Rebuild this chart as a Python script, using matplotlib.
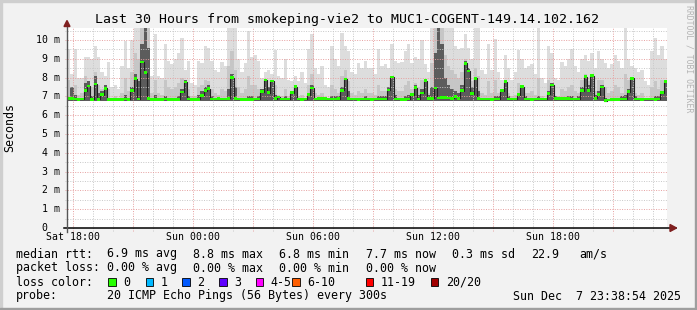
import matplotlib
matplotlib.use('Agg')
import matplotlib.pyplot as plt
import numpy as np
from matplotlib.patches import Rectangle, Polygon
from matplotlib.transforms import blended_transform_factory

plt.rcParams['font.family'] = ['DejaVu Sans Mono']

# ---- data: 10 minute steps starting Sat 17:42 (hours relative to Sat 18:00) ----
t_start = -0.3
step_h = 1 / 6.0

median_ms = [
    6.90, 6.88, 6.86, 6.85, 6.86, 7.30, 7.55, 6.85, 7.66, 6.84,
    7.10, 7.43, 6.85, 6.85, 6.84, 6.84, 6.85, 6.86, 6.85, 7.30,
    7.94, 6.86, 8.83, 8.26, 6.88, 6.85, 6.84, 6.84, 6.85, 6.86,
    6.85, 6.84, 6.85, 6.85, 7.23, 7.77, 6.86, 6.85, 6.84, 6.85,
    7.05, 7.30, 7.42, 6.87, 6.86, 6.88, 6.87, 6.86, 6.90, 8.00,
    6.88, 6.86, 6.85, 6.84, 6.84, 6.85, 6.86, 6.87, 7.25, 7.87,
    7.20, 7.82, 6.88, 6.97, 6.87, 6.86, 6.86, 7.20, 7.52, 6.87,
    6.85, 6.86, 7.10, 7.45, 6.87, 6.88, 6.89, 6.88, 6.87, 6.86,
    6.87, 6.88, 7.32, 7.93, 6.88, 6.87, 6.86, 6.85, 6.86, 6.87,
    6.86, 6.85, 6.86, 6.86, 6.87, 6.86, 7.34, 8.03, 6.87, 6.86,
    6.85, 6.85, 6.86, 7.09, 7.46, 6.87, 7.18, 7.84, 6.88, 6.90,
    7.45, 6.92, 6.94, 6.93, 6.92, 6.90, 6.98, 6.90, 7.30, 8.76,
    8.35, 7.15, 7.96, 6.90, 6.87, 6.86, 6.86, 6.85, 6.86, 6.87,
    7.30, 7.78, 6.87, 6.86, 6.86, 7.10, 7.52, 6.87, 6.86, 6.85,
    6.86, 6.87, 6.87, 6.86, 7.14, 7.60, 6.88, 6.89, 6.90, 6.90,
    6.88, 6.87, 6.86, 6.87, 7.30, 8.05, 7.30, 8.10, 6.90, 7.10,
    7.50, 6.78, 6.80, 6.82, 6.84, 6.85, 6.86, 6.86, 7.26, 7.96,
    6.87, 6.86, 6.85, 6.86, 6.87, 6.86, 6.85, 6.86, 7.20, 7.78,
]

smoke_hi = [
    9.5, 8.2, 9.5, 8.0, 8.0, 9.1, 9.1, 9.0, 9.7, 9.1,
    8.3, 8.1, 8.85, 7.5, 7.6, 7.4, 8.6, 9.95, 8.5, 10.0,
    10.7, 10.7, 10.7, 10.7, 10.7, 8.1, 10.3, 8.1, 8.0, 9.8,
    8.9, 8.7, 9.0, 9.3, 10.1, 8.4, 8.9, 7.7, 7.6, 8.9,
    8.8, 9.7, 9.6, 8.9, 8.4, 8.3, 8.85, 8.6, 10.7, 10.7,
    10.7, 9.0, 8.3, 8.8, 10.5, 9.1, 9.2, 8.9, 8.0, 8.3,
    8.4, 8.2, 9.45, 8.1, 8.0, 9.0, 7.9, 7.8, 8.1, 7.8,
    8.3, 7.7, 9.5, 10.3, 8.5, 8.2, 8.6, 7.6, 7.5, 9.7,
    9.0, 8.6, 10.4, 9.7, 9.4, 8.3, 8.2, 8.8, 8.5, 8.9,
    8.5, 8.5, 8.2, 9.5, 8.6, 8.7, 8.5, 9.8, 8.9, 8.8,
    8.85, 9.4, 9.8, 8.8, 9.1, 9.0, 10.0, 8.7, 8.3, 10.7,
    10.7, 10.7, 10.7, 10.7, 10.7, 10.7, 9.7, 9.5, 9.6, 10.3,
    9.6, 9.0, 10.7, 10.7, 8.4, 8.2, 9.8, 8.4, 10.05, 8.3,
    7.9, 9.2, 8.5, 7.9, 8.3, 9.47, 9.0, 8.5, 8.6, 8.7,
    8.2, 10.7, 8.0, 7.7, 9.7, 9.3, 8.0, 7.9, 8.85, 8.6,
    9.0, 9.5, 8.6, 8.3, 9.0, 9.2, 8.9, 9.3, 8.5, 9.4,
    9.0, 8.8, 8.5, 8.7, 9.2, 8.9, 8.5, 10.7, 9.0, 8.6,
    8.5, 8.3, 8.4, 7.8, 7.6, 9.4, 10.1, 9.2, 9.7, 9.0,
]

smoke_mid = [
    7.9, 7.3, 7.6, 7.1, 7.2, 8.1, 7.7, 7.5, 8.3, 7.6,
    7.4, 7.5, 7.4, 6.9, 7.0, 6.9, 7.2, 8.0, 7.3, 8.3,
    9.3, 9.0, 10.7, 10.7, 10.7, 7.2, 7.9, 7.2, 7.1, 7.9,
    7.5, 7.4, 7.5, 7.7, 8.0, 7.6, 7.4, 7.0, 7.0, 7.5,
    7.6, 7.9, 7.8, 7.4, 7.2, 7.1, 7.4, 7.3, 8.6, 9.4,
    8.4, 7.5, 7.2, 7.4, 8.1, 7.6, 7.6, 7.4, 7.4, 7.7,
    7.5, 7.6, 7.6, 7.1, 7.0, 7.4, 7.0, 7.1, 7.3, 7.0,
    7.1, 6.9, 7.6, 8.2, 7.2, 7.1, 7.2, 6.9, 6.9, 7.6,
    7.4, 7.2, 8.1, 8.4, 7.8, 7.2, 7.1, 7.3, 7.2, 7.4,
    7.2, 7.2, 7.1, 7.6, 7.3, 7.3, 7.5, 8.0, 7.4, 7.3,
    7.3, 7.6, 7.8, 7.4, 7.7, 7.5, 7.9, 7.7, 7.2, 8.8,
    10.7, 10.7, 10.7, 9.2, 8.6, 8.4, 8.2, 8.0, 8.3, 9.0,
    8.5, 7.8, 8.5, 8.1, 7.2, 7.1, 7.8, 7.2, 7.9, 7.2,
    7.1, 7.7, 7.2, 7.0, 7.1, 7.7, 7.5, 7.2, 7.2, 7.3,
    7.1, 8.0, 7.0, 6.9, 7.9, 7.7, 7.0, 7.0, 7.4, 7.3,
    7.5, 7.6, 7.3, 7.2, 7.9, 8.2, 7.8, 8.2, 7.3, 7.9,
    7.9, 7.5, 7.2, 7.3, 7.6, 7.5, 7.2, 8.2, 7.9, 7.8,
    7.2, 7.1, 7.2, 6.9, 6.9, 7.5, 7.8, 7.4, 7.9, 7.7,
]

smoke_dark = [
    6.9, 7.5, 7.1, 6.9, 6.9, 7.7, 7.8, 7.0, 8.1, 7.2,
    7.3, 7.6, 6.9, 6.88, 6.88, 6.88, 6.9, 7.1, 6.9, 7.5,
    8.2, 7.8, 9.8, 10.7, 9.6, 6.9, 7.1, 6.9, 6.9, 7.0,
    6.9, 6.88, 6.9, 7.0, 7.4, 7.9, 7.0, 6.88, 6.88, 7.1,
    7.3, 7.5, 7.6, 7.0, 6.9, 6.9, 6.9, 6.9, 7.4, 8.2,
    7.5, 6.9, 6.88, 6.88, 7.0, 7.0, 6.9, 7.0, 7.4, 7.9,
    7.5, 7.9, 7.1, 7.0, 6.9, 7.0, 6.9, 7.3, 7.6, 6.9,
    6.88, 6.9, 7.2, 7.6, 6.9, 6.9, 6.9, 6.88, 6.88, 7.0,
    7.0, 7.0, 7.5, 8.0, 7.3, 6.9, 6.9, 6.88, 6.9, 7.0,
    6.9, 6.88, 6.9, 7.0, 7.0, 7.0, 7.5, 8.1, 7.1, 6.9,
    6.88, 7.0, 7.1, 7.2, 7.6, 7.1, 7.4, 7.9, 7.1, 7.5,
    9.3, 10.7, 9.8, 8.0, 7.6, 7.4, 7.3, 7.2, 7.6, 8.9,
    8.5, 7.5, 8.0, 7.3, 6.9, 6.9, 6.9, 6.88, 7.0, 7.0,
    7.4, 7.9, 7.0, 6.9, 6.9, 7.2, 7.6, 7.0, 6.9, 6.88,
    6.9, 7.0, 6.9, 6.88, 7.3, 7.7, 7.0, 6.9, 6.9, 6.9,
    7.0, 7.0, 6.9, 7.0, 7.5, 8.1, 7.6, 8.2, 7.1, 7.3,
    7.6, 6.9, 6.88, 6.88, 6.9, 6.9, 7.0, 7.1, 7.4, 8.0,
    7.0, 6.9, 6.88, 6.9, 6.9, 6.9, 7.0, 7.0, 7.3, 7.8,
]
smoke_lo = 6.75

x_ticks = [0, 6, 12, 18, 24]
x_labels = ['Sat 18:00', 'Sun 00:00', 'Sun 06:00', 'Sun 12:00', 'Sun 18:00']
y_ticks = list(range(0, 11))

stats_rtt = ['6.9 ms avg', '8.8 ms max', '6.8 ms min', '7.7 ms now', '0.3 ms sd', '22.9', 'am/s']
stats_loss = ['0.00 % avg', '0.00 % max', '0.00 % min', '0.00 % now']
loss_labels = ['0', '1', '2', '3', '4-5', '6-10', '11-19', '20/20']
loss_colors = ['#26ff00', '#00b8ff', '#0059ff', '#5e00ff', '#ff00ff', '#ff5e00', '#ff0000', '#a10000']

title = 'Last 30 Hours from smokeping-vie2 to MUC1-COGENT-149.14.102.162'
probe = '20 ICMP Echo Pings (56 Bytes) every 300s'
stamp = 'Sun Dec  7 23:38:54 2025'

# ---- figure ----
W, H = 697, 310


def fx(x):
    return x / W


def fy(y):
    return 1 - y / H


fig = plt.figure(figsize=(W / 100, H / 100), dpi=100)
fig.patch.set_facecolor('#f2f2f2')
ax = fig.add_axes([fx(67), fy(228), 600 / W, 200 / H])
ax.set_facecolor('white')
ax.set_xlim(-0.3, 29.7)
ax.set_ylim(0, 10.64)
ax.set_xticks([])
ax.set_yticks([])
for s in ax.spines.values():
    s.set_visible(False)

n = len(median_ms)
t = t_start + np.arange(n + 1) * step_h


def ext(a):
    return np.append(a, a[-1])


med = np.array(median_ms)
ax.fill_between(t, smoke_lo, ext(smoke_hi), step='post', color='#dddddd', lw=0, zorder=1)
ax.fill_between(t, smoke_lo, ext(smoke_mid), step='post', color='#c6c6c6', lw=0, zorder=1.1)
ax.fill_between(t, smoke_lo, ext(smoke_dark), step='post', color='#5c5c5c', lw=0, zorder=1.2)

# grid
dots = (0, (1, 1.5))
for h in range(0, 30):
    c = '#e6a0a0' if h % 3 == 0 else '#c8c8c8'
    ax.plot([h, h], [-0.16, 10.64], color=c, lw=0.7, ls=dots, clip_on=False, zorder=3)
for v in np.arange(0.5, 10.6, 0.5):
    c = '#e6a0a0' if v % 1 == 0 else '#c8c8c8'
    ax.plot([-0.42, 29.7], [v, v], color=c, lw=0.7, ls=dots, clip_on=False, zorder=3)

# median: thin dark line plus loss coloured band
ax.step(t, ext(med), where='post', color='#202020', lw=0.8, zorder=4)
ax.fill_between(t, ext(med - 0.07), ext(med + 0.07), step='post', color=loss_colors[0], lw=0, zorder=5)

# axes + arrows
ax.plot([-0.45, 30.15], [0, 0], color='#000000', lw=1.1, clip_on=False, zorder=6)
ax.plot([-0.3, -0.3], [-0.2, 10.8], color='#555555', lw=1.0, clip_on=False, zorder=6)
fig.add_artist(Polygon([(fx(64), fy(26.5)), (fx(70), fy(26.5)), (fx(67), fy(20.5))],
                       closed=True, color='#7f1f1f', transform=fig.transFigure))
fig.add_artist(Polygon([(fx(670), fy(224.5)), (fx(670), fy(231.5)), (fx(676.5), fy(228))],
                       closed=True, color='#7f1f1f', transform=fig.transFigure))

# tick labels
ty = blended_transform_factory(fig.transFigure, ax.transData)
for v in y_ticks:
    lab = ' 0' if v == 0 else f'{v:2d} m'
    ax.text(fx(36), v, lab, transform=ty, ha='left', va='center', fontsize=7.1)
tx = blended_transform_factory(ax.transData, fig.transFigure)
for h, lab in zip(x_ticks, x_labels):
    ax.text(h, fy(237.5), lab, transform=tx, ha='center', va='center', fontsize=7.1)

# title and side texts
fig.text(fx(347), fy(19), title, ha='center', va='center', fontsize=9.5)
fig.text(fx(10), fy(127), 'Seconds', rotation=90, ha='center', va='center', fontsize=8.4)
fig.text(fx(689), fy(59), 'RRDTOOL / TOBI OETIKER', rotation=270, ha='center', va='center',
         fontsize=5.9, color='#b4b4b4')

# legend
fs = 8.4
fig.text(fx(16), fy(254), 'median rtt:', va='center', fontsize=fs)
for x, s in zip([107, 193, 279, 366, 452, 531, 579], stats_rtt):
    fig.text(fx(x), fy(254), s, va='center', fontsize=fs)
fig.text(fx(16), fy(268), 'packet loss:', va='center', fontsize=fs)
for x, s in zip([107, 193, 279, 366], stats_loss):
    fig.text(fx(x), fy(268), s, va='center', fontsize=fs)
fig.text(fx(16), fy(282), 'loss color:', va='center', fontsize=fs)
sq_x = [108, 145.7, 182.3, 219, 255.7, 292.3, 365.7, 430.7]
for x, lab, c in zip(sq_x, loss_labels, loss_colors):
    fig.add_artist(Rectangle((fx(x), fy(285.5)), 7.5 / W, 7.5 / H, facecolor=c,
                             edgecolor='black', lw=0.6, transform=fig.transFigure))
    fig.text(fx(x + 15), fy(282), lab, va='center', fontsize=fs)
fig.text(fx(16), fy(296), 'probe:', va='center', fontsize=fs)
fig.text(fx(107), fy(296), probe, va='center', fontsize=fs)
fig.text(fx(513), fy(296), stamp, va='center', fontsize=fs)

# frame
fig.add_artist(Rectangle((0, 1 - 2 / H), 1, 2 / H, color='#cfcfcf', transform=fig.transFigure))
fig.add_artist(Rectangle((0, 0), 2 / W, 1, color='#cfcfcf', transform=fig.transFigure))
fig.add_artist(Rectangle((0, 0), 1, 2 / H, color='#9e9e9e', transform=fig.transFigure))
fig.add_artist(Rectangle((1 - 2 / W, 0), 2 / W, 1, color='#9e9e9e', transform=fig.transFigure))

fig.savefig('out.png', dpi=100, facecolor=fig.get_facecolor())
